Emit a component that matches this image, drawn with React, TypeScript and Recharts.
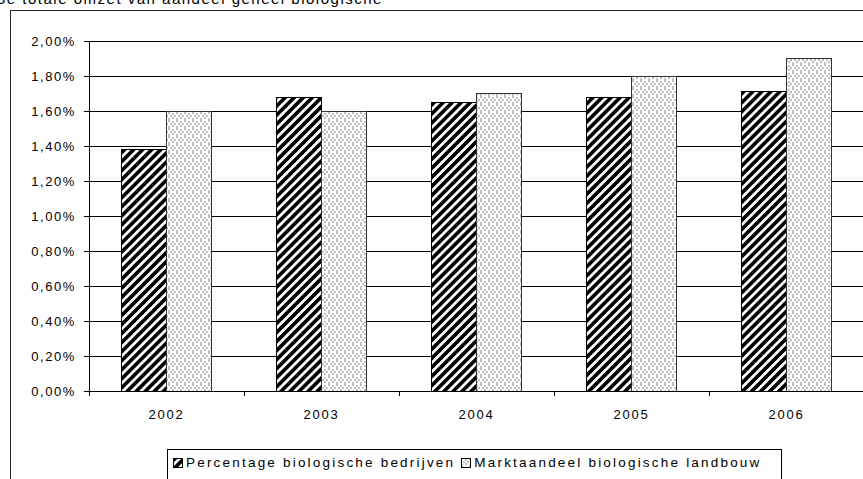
import React from 'react'
import { Bar, BarChart, CartesianGrid, XAxis, YAxis } from 'recharts'

const years = ['2002', '2003', '2004', '2005', '2006']
const bedrijven = [1.38, 1.68, 1.65, 1.68, 1.71]
const marktaandeel = [1.6, 1.6, 1.7, 1.8, 1.9]
const yTicks = [0, 0.2, 0.4, 0.6, 0.8, 1.0, 1.2, 1.4, 1.6, 1.8, 2.0]

const seriesNames = ['Percentage biologische bedrijven', 'Marktaandeel biologische landbouw']

const data = years.map((year, i) => ({
  year,
  bedrijven: bedrijven[i],
  marktaandeel: marktaandeel[i],
}))

const FONT = '"Liberation Sans", Arial, sans-serif'

const fmtPct = (v: number) => v.toFixed(2).replace('.', ',') + '%'

function YearTick(props: any) {
  const { x, y, payload, width, visibleTicksCount } = props
  const band = width && visibleTicksCount ? width / visibleTicksCount : 155
  const left = x - band / 2
  return (
    <g>
      <line x1={left} y1={y} x2={left} y2={y + 5} stroke="#000" />
      <text
        x={x}
        y={y + 28}
        textAnchor="middle"
        fill="#000"
        fontFamily={FONT}
        fontSize={13}
        letterSpacing={1.8}
      >
        {payload.value}
      </text>
    </g>
  )
}

function PatternDefs() {
  return (
    <defs>
      <pattern
        id="hatch"
        patternUnits="userSpaceOnUse"
        width={6.4}
        height={6.4}
        patternTransform="rotate(45)"
      >
        <rect x={0} y={0} width={6.4} height={6.4} fill="#fff" />
        <rect x={0} y={0} width={3.4} height={6.4} fill="#000" />
      </pattern>
      <pattern id="dots" patternUnits="userSpaceOnUse" width={8} height={8}>
        <rect x={0} y={0} width={8} height={8} fill="#fff" />
        <rect x={0} y={0} width={2} height={2} fill="#bcbcbc" />
        <rect x={4} y={1} width={2} height={2} fill="#c4c4c4" />
        <rect x={6} y={3} width={2} height={2} fill="#bcbcbc" />
        <rect x={2} y={3} width={2} height={2} fill="#c4c4c4" />
        <rect x={4} y={5} width={2} height={2} fill="#bcbcbc" />
        <rect x={0} y={6} width={2} height={2} fill="#c4c4c4" />
      </pattern>
    </defs>
  )
}

function LegendIcon({ fill }: { fill: string }) {
  return (
    <svg width={10} height={10} style={{ marginRight: 3, verticalAlign: -1 }}>
      <PatternDefs />
      <rect x={0.5} y={0.5} width={9} height={9} fill={fill} stroke="#000" />
    </svg>
  )
}

export default function App() {
  return (
    <div
      style={{
        position: 'absolute',
        left: 0,
        top: 0,
        width: 863,
        height: 479,
        overflow: 'hidden',
        background: '#fff',
        fontFamily: FONT,
      }}
    >
      <div
        style={{
          position: 'absolute',
          left: -3,
          top: -10,
          fontSize: 15,
          letterSpacing: 1.5,
          whiteSpace: 'nowrap',
          color: '#000',
        }}
      >
        oe totale omzet van aandeel geheel biologische
      </div>
      <div
        style={{
          position: 'absolute',
          left: 10,
          top: 10,
          width: 900,
          height: 520,
          border: '1px solid #222',
          boxSizing: 'border-box',
        }}
      />
      <div style={{ position: 'absolute', left: 0, top: 0 }}>
        <BarChart
          width={900}
          height={479}
          data={data}
          margin={{ top: 41, right: 36, left: 10, bottom: 58 }}
          barCategoryGap="21%"
          barGap={0}
          style={{ shapeRendering: 'crispEdges' }}
        >
          <PatternDefs />
          <CartesianGrid vertical={false} stroke="#000" strokeOpacity={1} />
          <XAxis
            dataKey="year"
            height={30}
            tickLine={false}
            tickSize={0}
            tickMargin={0}
            axisLine={{ stroke: '#000' }}
            tick={<YearTick />}
            interval={0}
          />
          <YAxis
            width={79}
            domain={[0, 2]}
            ticks={yTicks}
            tickFormatter={fmtPct}
            tickSize={5}
            tickMargin={8}
            axisLine={{ stroke: '#000' }}
            tickLine={{ stroke: '#000' }}
            tick={{ fill: '#000', fontSize: 13, fontFamily: FONT, letterSpacing: 1.6 }}
            interval={0}
          />
          <Bar
            dataKey="bedrijven"
            name={seriesNames[0]}
            fill="url(#hatch)"
            stroke="#000"
            strokeWidth={1}
            isAnimationActive={false}
          />
          <Bar
            dataKey="marktaandeel"
            name={seriesNames[1]}
            fill="url(#dots)"
            stroke="#333"
            strokeWidth={1}
            isAnimationActive={false}
          />
        </BarChart>
      </div>
      <div
        style={{
          position: 'absolute',
          left: 167,
          top: 449,
          width: 615,
          height: 60,
          border: '1px solid #000',
          background: '#fff',
          boxSizing: 'border-box',
          padding: '5px 0 0 5px',
          fontSize: 13.5,
          letterSpacing: 2.2,
          lineHeight: '16px',
          whiteSpace: 'nowrap',
          color: '#000',
        }}
      >
        <LegendIcon fill="url(#hatch)" />
        <span style={{ marginRight: 6 }}>{seriesNames[0]}</span>
        <LegendIcon fill="url(#dots)" />
        <span>{seriesNames[1]}</span>
      </div>
    </div>
  )
}
